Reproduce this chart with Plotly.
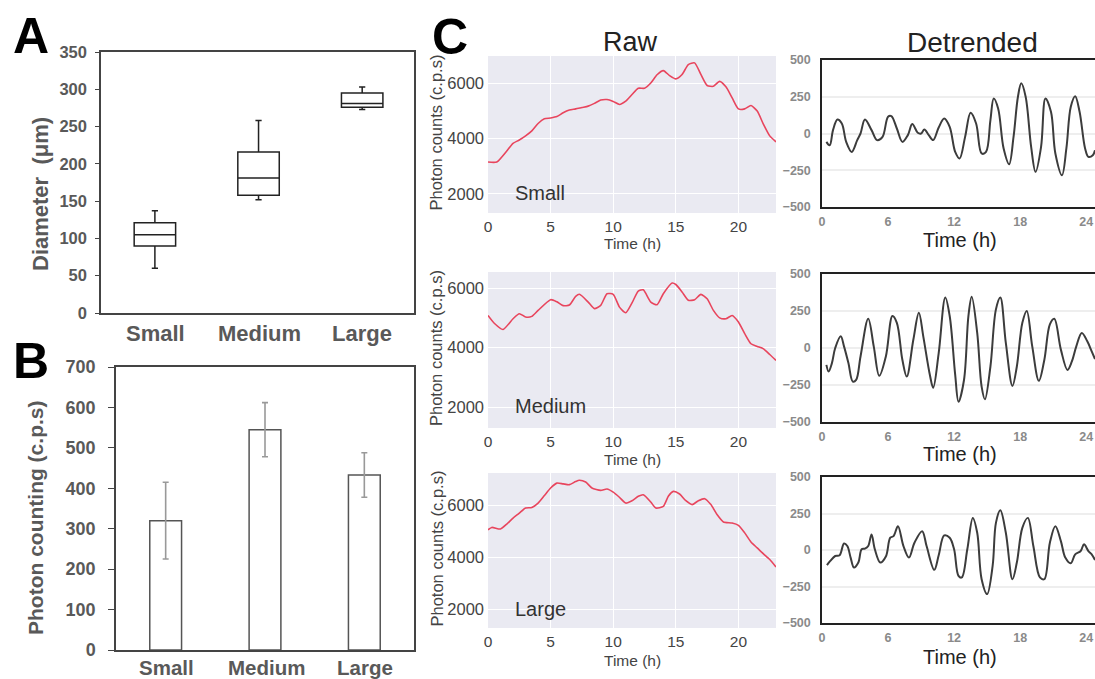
import plotly.graph_objects as go

W, H = 1095, 679
OFF = 0
FONT = "Liberation Sans, Arial, sans-serif"

# ---------------- data ----------------
size_cats = ["Small", "Medium", "Large"]
diam_low = [60, 152, 273]
diam_q1 = [90, 158, 276]
diam_med = [105, 181, 281]
diam_q3 = [121, 216, 295]
diam_high = [137, 258, 303]

photon_mean = [320, 545, 433]
photon_err = [95, 67, 55]

raw_small_t = [0, 0.7, 1.5, 2, 2.5, 3, 3.5, 4, 4.5, 5, 5.5, 6, 6.5, 7, 7.5, 8, 8.5, 9, 9.5, 10,
               10.5, 11, 11.5, 12, 12.5, 13, 13.5, 14, 14.5, 15, 15.5, 16, 16.5, 17, 17.5, 18,
               18.5, 19, 19.5, 20, 20.5, 21, 21.5, 22, 22.5, 23]
raw_small_v = [3150, 3150, 3550, 3830, 3950, 4100, 4280, 4550, 4720, 4750, 4800, 4940, 5040, 5080,
               5130, 5180, 5280, 5400, 5420, 5350, 5240, 5360, 5600, 5830, 5830, 6020, 6320, 6470,
               6290, 6170, 6330, 6690, 6750, 6330, 5930, 5900, 6080, 5880, 5480, 5080, 5080, 5200,
               5000, 4520, 4100, 3880]

raw_medium_t = [0, 0.5, 1.2, 2, 2.5, 3, 3.5, 4, 5, 5.5, 6, 6.5, 7, 7.3, 8, 8.5, 9, 9.5, 10, 10.5,
                11, 11.5, 12, 12.4, 13, 13.5, 14, 14.7, 15, 15.5, 16, 16.5, 17, 17.5, 18, 18.5,
                19, 19.5, 20, 20.5, 21, 21.5, 22, 22.5, 23]
raw_medium_v = [5080, 4820, 4610, 4970, 5140, 5030, 5050, 5250, 5610, 5540, 5410, 5430, 5720, 5790,
                5530, 5310, 5420, 5810, 5790, 5360, 5170, 5500, 5900, 5940, 5530, 5440, 5810, 6170,
                6120, 5870, 5590, 5610, 5790, 5640, 5250, 5000, 4970, 5080, 4860, 4470, 4130, 4040,
                3960, 3770, 3570]

raw_large_t = [0, 0.3, 1, 1.5, 2, 2.5, 3, 3.5, 4, 4.5, 5, 5.5, 6, 6.5, 7, 7.3, 7.8, 8.3, 9, 9.5,
               10, 10.5, 11, 11.5, 12, 12.4, 13, 13.4, 14, 14.4, 14.8, 15.3, 15.8, 16.3, 16.8,
               17.3, 17.8, 18.3, 18.8, 19.5, 20, 20.5, 21, 21.5, 22, 22.5, 23]
raw_large_v = [5060, 5150, 5090, 5280, 5510, 5700, 5900, 5920, 6090, 6380, 6670, 6860, 6830, 6800,
               6920, 6970, 6900, 6670, 6580, 6630, 6510, 6310, 6090, 6180, 6350, 6410, 6130, 5900,
               5960, 6350, 6540, 6440, 6180, 6030, 6180, 6260, 6030, 5640, 5360, 5320, 5230, 4940,
               4590, 4360, 4130, 3910, 3620]

det_small_t = [0.4, 0.7, 1.0, 1.4, 1.8, 2.2, 2.7, 3.2, 3.5, 3.9, 4.5, 5.0, 5.5, 6.0, 6.3, 6.8, 7.3,
               7.8, 8.2, 8.7, 9.0, 9.3, 9.7, 10.1, 10.6, 11.1, 11.6, 12.1, 12.5, 13.0, 13.5, 14.0,
               14.5, 14.9, 15.3, 15.6, 16.0, 16.5, 17.0, 17.4, 17.8, 18.1, 18.5, 19.0, 19.4, 19.9,
               20.3, 20.8, 21.2, 21.8, 22.2, 22.6, 23.0, 23.4, 23.9, 24.2, 24.6, 24.8]
det_small_v = [-57, -80, 23, 95, 68, -57, -125, -45, 0, 95, 23, -45, -23, 114, 118, 34, -57, -11,
               64, 5, 0, 27, -11, -45, 41, 102, 45, -125, -170, -23, 141, 68, -136, -125, 91, 238,
               170, -102, -209, -23, 250, 341, 250, -91, -261, -91, 238, 148, -136, -284, -102,
               182, 254, 148, -102, -159, -148, -114]

det_medium_t = [0.4, 0.6, 0.9, 1.2, 1.7, 2.0, 2.4, 2.8, 3.1, 3.5, 4.2, 4.7, 5.2, 5.8, 6.4, 6.8,
                7.3, 7.7, 8.3, 8.8, 9.2, 9.8, 10.1, 10.6, 11.2, 11.6, 12.1, 12.4, 12.9, 13.3, 13.6,
                14.1, 14.5, 14.8, 15.3, 15.8, 16.2, 16.7, 17.3, 17.7, 18.2, 18.6, 19.1, 19.7, 20.2,
                20.7, 21.1, 21.7, 22.3, 22.7, 23.1, 23.6, 24.1, 24.5, 24.8]
det_medium_v = [-114, -159, -102, 0, 79, 11, -102, -227, -216, -57, 197, 11, -188, -57, 216, 170,
                -79, -193, 57, 238, 79, -182, -268, -34, 341, 216, -182, -363, -216, 216, 347, 102,
                -261, -347, -125, 261, 341, 34, -256, -125, 170, 250, 11, -222, -79, 159, 197, -11,
                -148, -91, 11, 102, 45, -23, -75]

det_large_t = [0.45, 0.75, 1.2, 1.6, 2.0, 2.3, 2.6, 2.9, 3.3, 3.6, 3.9, 4.2, 4.5, 4.8, 5.3, 5.8,
               6.2, 6.5, 6.9, 7.4, 7.9, 8.4, 9.1, 9.5, 10.2, 10.6, 11.1, 11.6, 12.0, 12.4, 12.7,
               13.2, 13.7, 14.1, 14.5, 15.0, 15.5, 15.8, 16.2, 16.7, 17.3, 17.7, 18.2, 18.7, 19.2,
               19.8, 20.2, 20.7, 21.2, 21.7, 22.1, 22.6, 23.0, 23.5, 23.8, 24.2, 24.5, 24.8]
det_large_v = [-104, -75, -41, -36, 45, 27, -52, -120, -86, 5, 9, 27, 107, 5, -86, -45, 84, 95,
               163, 27, -52, 50, 129, 27, -136, -36, 100, 84, 5, -177, -188, 5, 220, 118, -200,
               -302, -109, 186, 272, 118, -200, -86, 152, 220, 27, -188, -200, 50, 163, 61, -52,
               -91, -30, -7, 39, -7, -30, -68]

raw_ticks = [2000, 4000, 6000]
raw_xticks = [0, 5, 10, 15, 20]
det_ticks = [-500, -250, 0, 250, 500]
det_xticks = [0, 6, 12, 18, 24]
group_labels = ["Small", "Medium", "Large"]

# ---------------- helpers (reference pixel -> paper) ----------------
def dx(a, b):
    return [max(0, (a - OFF) / W), min(1, (b - OFF) / W)]

def dy(top, bottom):
    return [max(0, 1 - (bottom - OFF) / H), min(1, 1 - (top - OFF) / H)]

def px(x, y):
    return dict(xref="paper", yref="paper", x=(x - OFF) / W, y=1 - (y - OFF) / H)

fig = go.Figure()

# Panel A box plot
fig.add_trace(go.Box(
    x=size_cats, q1=diam_q1, median=diam_med, q3=diam_q3,
    lowerfence=diam_low, upperfence=diam_high,
    xaxis="x", yaxis="y", width=0.4, whiskerwidth=0.15,
    fillcolor="white", line=dict(color="#222222", width=1.5),
    showlegend=False, boxpoints=False))

# Panel B bars
fig.add_trace(go.Bar(
    x=size_cats, y=photon_mean, xaxis="x2", yaxis="y2", width=0.32,
    marker=dict(color="white", line=dict(color="#555555", width=1.5)),
    error_y=dict(type="data", array=photon_err, color="#999999", thickness=1.6, width=3),
    showlegend=False))

RED = "#e8455d"
raws = [(raw_small_t, raw_small_v), (raw_medium_t, raw_medium_v), (raw_large_t, raw_large_v)]
dets = [(det_small_t, det_small_v), (det_medium_t, det_medium_v), (det_large_t, det_large_v)]
for i, (t, v) in enumerate(raws):
    fig.add_trace(go.Scatter(x=t, y=v, mode="lines", line=dict(color=RED, width=1.6, shape="spline", smoothing=0.6),
                             xaxis=f"x{3+i}", yaxis=f"y{3+i}", showlegend=False))
for i, (t, v) in enumerate(dets):
    fig.add_trace(go.Scatter(x=t, y=v, mode="lines", line=dict(color="#3c3c3c", width=2, shape="spline", smoothing=1.0),
                             xaxis=f"x{6+i}", yaxis=f"y{6+i}", showlegend=False))

layout = dict(
    width=W, height=H, margin=dict(l=0, r=0, t=0, b=0, autoexpand=False),
    paper_bgcolor="white", plot_bgcolor="white",
    font=dict(family=FONT, color="#444"),
)

GRAYB = "#595959"
# A axes
layout["xaxis"] = dict(domain=dx(101, 414), anchor="y", range=[-0.52, 2.5], type="category",
                       showline=True, linecolor="#444", linewidth=1.5, mirror=True,
                       showgrid=False, ticks="", showticklabels=False)
layout["yaxis"] = dict(domain=dy(52, 313), anchor="x", range=[0, 350], dtick=50,
                       showline=True, linecolor="#444", linewidth=1.5, mirror=True,
                       showgrid=False, ticks="outside", ticklen=4, tickcolor="#444",
                       ticklabelstandoff=5,
                       tickfont=dict(family=FONT, size=16.5, color=GRAYB, weight="bold"))
# B axes
layout["xaxis2"] = dict(domain=dx(116, 414), anchor="y2", range=[-0.5, 2.5], type="category",
                        showline=True, linecolor="#444", linewidth=1.5, mirror=True,
                        showgrid=False, ticks="", showticklabels=False)
layout["yaxis2"] = dict(domain=dy(367, 650), anchor="x2", range=[0, 700], dtick=100,
                        showline=True, linecolor="#444", linewidth=1.5, mirror=True,
                        showgrid=False, ticks="outside", ticklen=6, tickcolor="#444",
                        ticklabelstandoff=9,
                        tickfont=dict(family=FONT, size=18, color=GRAYB, weight="bold"))

raw_y = [(56, 213, [1300, 7000]), (272, 428, [1300, 6540]), (473, 628, [1270, 7250])]
det_y = [(60, 207), (274, 422), (477, 623)]
shapes = []
for i, (top, bot, rng) in enumerate(raw_y):
    n = 3 + i
    layout[f"xaxis{n}"] = dict(domain=dx(488, 776), anchor=f"y{n}", range=[0, 23],
                               tickvals=raw_xticks, showline=False, zeroline=False,
                               showgrid=True, gridcolor="white", gridwidth=1, ticks="",
                               ticklabelstandoff=2,
                               tickfont=dict(family=FONT, size=15.5, color="#444"))
    layout[f"yaxis{n}"] = dict(domain=dy(top, bot), anchor=f"x{n}", range=rng,
                               tickvals=raw_ticks, showline=False, zeroline=False,
                               showgrid=True, gridcolor="white", gridwidth=1, ticks="",
                               ticklabelstandoff=3,
                               tickfont=dict(family=FONT, size=16.5, color="#444"))
    shapes.append(dict(type="rect", xref=f"x{n} domain", yref=f"y{n} domain",
                       x0=0, x1=1, y0=0, y1=1, fillcolor="#eaeaf2", line=dict(width=0), layer="below"))
for i, (top, bot) in enumerate(det_y):
    n = 6 + i
    layout[f"xaxis{n}"] = dict(domain=dx(822, 1095), anchor=f"y{n}", range=[0, 24.8],
                               tickvals=det_xticks, showline=True, linecolor="#222", linewidth=1.5,
                               mirror=True, zeroline=False, showgrid=False, ticks="",
                               ticklabelstandoff=2, ticklabeloverflow="allow",
                               tickfont=dict(family=FONT, size=12.5, color="#8a8a8a", weight="bold"))
    layout[f"yaxis{n}"] = dict(domain=dy(top, bot), anchor=f"x{n}", range=[-500, 500],
                               tickvals=det_ticks, showline=True, linecolor="#222", linewidth=1.5,
                               mirror=False, zeroline=False, showgrid=True, gridcolor="#eeeeee",
                               gridwidth=1.5, ticks="", ticklabelstandoff=7,
                               tickfont=dict(family=FONT, size=12.5, color="#8a8a8a", weight="bold"))

ann = []
def text(x, y, s, size, color="#444", bold=False, angle=0, xanchor="center"):
    d = px(x, y)
    d.update(text=f"<b>{s}</b>" if bold else s, showarrow=False, textangle=angle,
             xanchor=xanchor, yanchor="middle",
             font=dict(family=FONT, size=size, color=color))
    ann.append(d)

# panel letters
text(31, 36, "A", 50, "black", True)
text(31, 361, "B", 50, "black", True)
text(450, 37, "C", 50, "black", True)

# A / B titles and category labels
text(40, 194, "Diameter  (μm)", 22, GRAYB, True, -90)
text(35, 518, "Photon counting (c.p.s)", 21, GRAYB, True, -90)
a_centers = [155, 259, 362]
b_centers = [166, 266, 365]
for c, lab in zip(a_centers, group_labels):
    text(c, 333, lab, 22, GRAYB, True)
for c, lab in zip(b_centers, group_labels):
    text(c, 667, lab, 20.5, GRAYB, True)

# C titles
text(630, 42, "Raw", 27, "#222")
text(972, 42, "Detrended", 28, "#222")

raw_time_y = [243, 459, 660]
det_time_y = [240, 454, 657]
label_y = [193, 406, 609]
for i in range(3):
    top, bot, _ = raw_y[i]
    text(632, raw_time_y[i], "Time (h)", 15.5, "#444")
    text(436, (top + bot) / 2 - 2, "Photon counts (c.p.s)", 16.5, "#444", False, -90)
    text(513, label_y[i], group_labels[i], 20, "#333", xanchor="left")
    text(960, det_time_y[i], "Time (h)", 20, "#222")

layout["annotations"] = ann
layout["shapes"] = shapes
fig.update_layout(**layout)
fig.write_html("out.html",
               config={"displayModeBar": False},
               post_script="document.body.style.margin='0';document.body.style.overflow='hidden';")
